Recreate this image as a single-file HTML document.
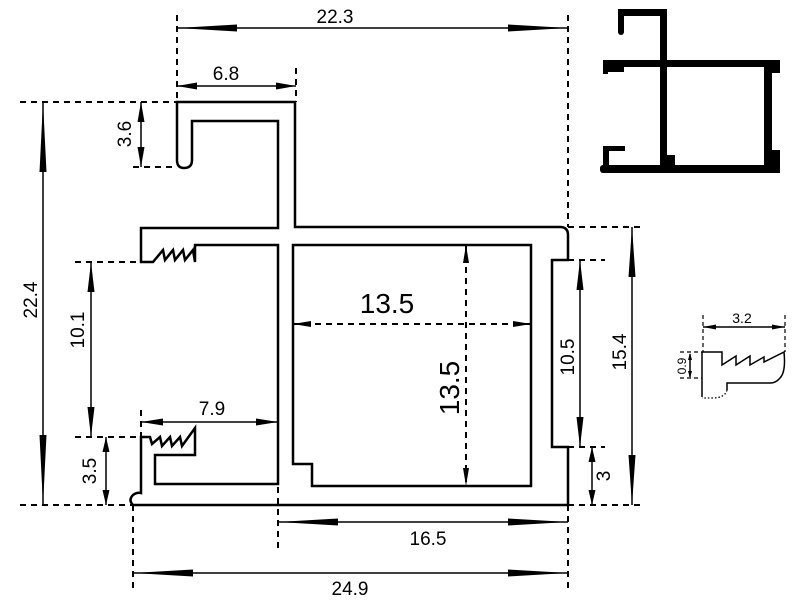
<!DOCTYPE html>
<html><head><meta charset="utf-8"><style>html,body{margin:0;padding:0;background:#fff}svg{display:block}text{font-family:"Liberation Sans",sans-serif;fill:#000}</style></head>
<body>
<svg width="800" height="600" viewBox="0 0 800 600" xmlns="http://www.w3.org/2000/svg">
<g fill="none" stroke="#000" stroke-width="2.5" stroke-linejoin="miter">
<path d="M177,102 H295 V227 H560 Q568,227 568,235 V260 H552 V447 H568 V505 H133 Q128,500 133,495 Q137,492 141,493 V437 H150 L152,444 L160,437 L162,446 L170,437 L172,446 L180,437 L182,446 L195,428 V455 H155 V484 H278 V245 H195 V262 L193,250 L185,260 L183,250 L175,260 L173,250 L165,260 L163,250 L153,262 H141 V228 H278 V121 H192 V160 Q192,168 184,168 Q177,168 177,160 Z"/>
<path d="M293,245 H531 V486 H312 V464 H293 Z"/>
</g>
<g stroke="#000" stroke-width="2" stroke-dasharray="6,5" fill="none">
<line x1="20" y1="102" x2="177" y2="102"/>
<line x1="133" y1="167" x2="177" y2="167"/>
<line x1="75" y1="262" x2="141" y2="262"/>
<line x1="75" y1="437" x2="150" y2="437"/>
<line x1="20" y1="505" x2="133" y2="505"/>
<line x1="177" y1="15" x2="177" y2="102"/>
<line x1="296" y1="68" x2="296" y2="102"/>
<line x1="568" y1="15" x2="568" y2="227"/>
<line x1="568" y1="505" x2="568" y2="590"/>
<line x1="278" y1="487" x2="278" y2="552"/>
<line x1="133" y1="505" x2="133" y2="590"/>
<line x1="141" y1="410" x2="141" y2="437"/>
<line x1="568" y1="227" x2="640" y2="227"/>
<line x1="568" y1="260" x2="605" y2="260"/>
<line x1="568" y1="447" x2="605" y2="447"/>
<line x1="568" y1="505" x2="640" y2="505"/>
<line x1="293" y1="324" x2="531" y2="324"/>
<line x1="466" y1="245" x2="466" y2="486"/>
</g>
<g stroke="#000" stroke-width="1.5">
<line x1="177" y1="28" x2="568" y2="28"/>
<line x1="177" y1="86" x2="296" y2="86"/>
<line x1="141" y1="422" x2="278" y2="422"/>
<line x1="278" y1="522" x2="568" y2="522"/>
<line x1="133" y1="573" x2="568" y2="573"/>
<line x1="43" y1="102" x2="43" y2="505"/>
<line x1="141" y1="102" x2="141" y2="167"/>
<line x1="91" y1="262" x2="91" y2="437"/>
<line x1="106" y1="437" x2="106" y2="505"/>
<line x1="580" y1="260" x2="580" y2="447"/>
<line x1="632" y1="227" x2="632" y2="505"/>
<line x1="592" y1="447" x2="592" y2="505"/>
</g>
<g fill="#000">
<polygon points="177,28 237,24.5 237,31.5"/><polygon points="568,28 508,24.5 508,31.5"/>
<polygon points="177,86 197,82.5 197,89.5"/><polygon points="296,86 276,82.5 276,89.5"/>
<polygon points="293,324 311,321 311,327"/><polygon points="531,324 513,321 513,327"/>
<polygon points="141,422 163,418.5 163,425.5"/><polygon points="278,422 256,418.5 256,425.5"/>
<polygon points="278,522 338,518.5 338,525.5"/><polygon points="568,522 508,518.5 508,525.5"/>
<polygon points="133,573 193,569.5 193,576.5"/><polygon points="568,573 508,569.5 508,576.5"/>
<polygon points="43,102 39.5,172 46.5,172"/><polygon points="43,505 39.5,435 46.5,435"/>
<polygon points="141,102 137.5,122 144.5,122"/><polygon points="141,167 137.5,147 144.5,147"/>
<polygon points="91,262 87.5,292 94.5,292"/><polygon points="91,437 87.5,407 94.5,407"/>
<polygon points="106,437 102.5,452 109.5,452"/><polygon points="106,505 102.5,490 109.5,490"/>
<polygon points="466,245 463,263 469,263"/><polygon points="466,486 463,468 469,468"/>
<polygon points="580,260 576.5,290 583.5,290"/><polygon points="580,447 576.5,417 583.5,417"/>
<polygon points="632,227 628.5,277 635.5,277"/><polygon points="632,505 628.5,455 635.5,455"/>
<polygon points="592,447 588.5,462 595.5,462"/><polygon points="592,505 588.5,490 595.5,490"/>
</g>
<g font-size="19" text-anchor="middle">
<text x="335" y="23">22.3</text>
<text x="226" y="80">6.8</text>
<text x="212" y="415">7.9</text>
<text x="428" y="545">16.5</text>
<text x="350" y="595">24.9</text>
<text font-size="28" x="387" y="313">13.5</text>
<text transform="translate(37,300) rotate(-90)">22.4</text>
<text transform="translate(131,134) rotate(-90)">3.6</text>
<text transform="translate(84,330) rotate(-90)">10.1</text>
<text transform="translate(96,471) rotate(-90)">3.5</text>
<text font-size="28" transform="translate(459,388) rotate(-90)">13.5</text>
<text transform="translate(574,357) rotate(-90)">10.5</text>
<text transform="translate(626,352) rotate(-90)">15.4</text>
<text transform="translate(610,476) rotate(-90)">3</text>
</g>
<g fill="#000">
<rect x="618" y="9" width="49" height="7"/>
<rect x="618" y="9" width="6" height="26" rx="3"/>
<rect x="660" y="9" width="7" height="164"/>
<rect x="603" y="60" width="177" height="7" rx="3"/>
<rect x="603" y="60" width="5" height="14"/>
<rect x="764" y="60" width="8" height="113"/>
<rect x="772" y="60" width="8" height="13"/>
<rect x="772" y="150" width="8" height="23"/>
<rect x="600" y="165" width="180" height="8" rx="3"/>
<rect x="603" y="146" width="6" height="27"/>
<rect x="609" y="146" width="16" height="5"/>
<rect x="608" y="67" width="16" height="5"/>
<rect x="667" y="155" width="8" height="11"/>
</g>
<g fill="none" stroke="#000" stroke-width="1.5">
<path d="M702,397 V352 H722 V365 L736,356 V365 L750,356 V365 L764,357 V362 L784,352 Q786,372 780,378 Q776,383 770,383 H727 V390"/>
<line x1="703" y1="327" x2="785" y2="327"/>
<line x1="690" y1="354" x2="690" y2="377"/>
</g>
<path d="M727,390 Q725,398 712,398 H702" fill="none" stroke="#000" stroke-width="1.3" stroke-dasharray="1.5,2"/>
<g stroke="#000" stroke-width="1.2" stroke-dasharray="4,3" fill="none">
<line x1="703" y1="315" x2="703" y2="352"/>
<line x1="785" y1="315" x2="785" y2="352"/>
<line x1="680" y1="352" x2="702" y2="352"/>
<line x1="680" y1="378" x2="702" y2="378"/>
</g>
<g fill="#000">
<polygon points="703,327 716,324.5 716,329.5"/><polygon points="785,327 772,324.5 772,329.5"/>
<polygon points="690,353 688,360 692,360"/><polygon points="690,378 688,371 692,371"/>
</g>
<text x="742" y="323" font-size="14" text-anchor="middle">3.2</text>
<text transform="translate(686,366) rotate(-90)" font-size="12" text-anchor="middle">0.9</text>
</svg>
</body></html>
